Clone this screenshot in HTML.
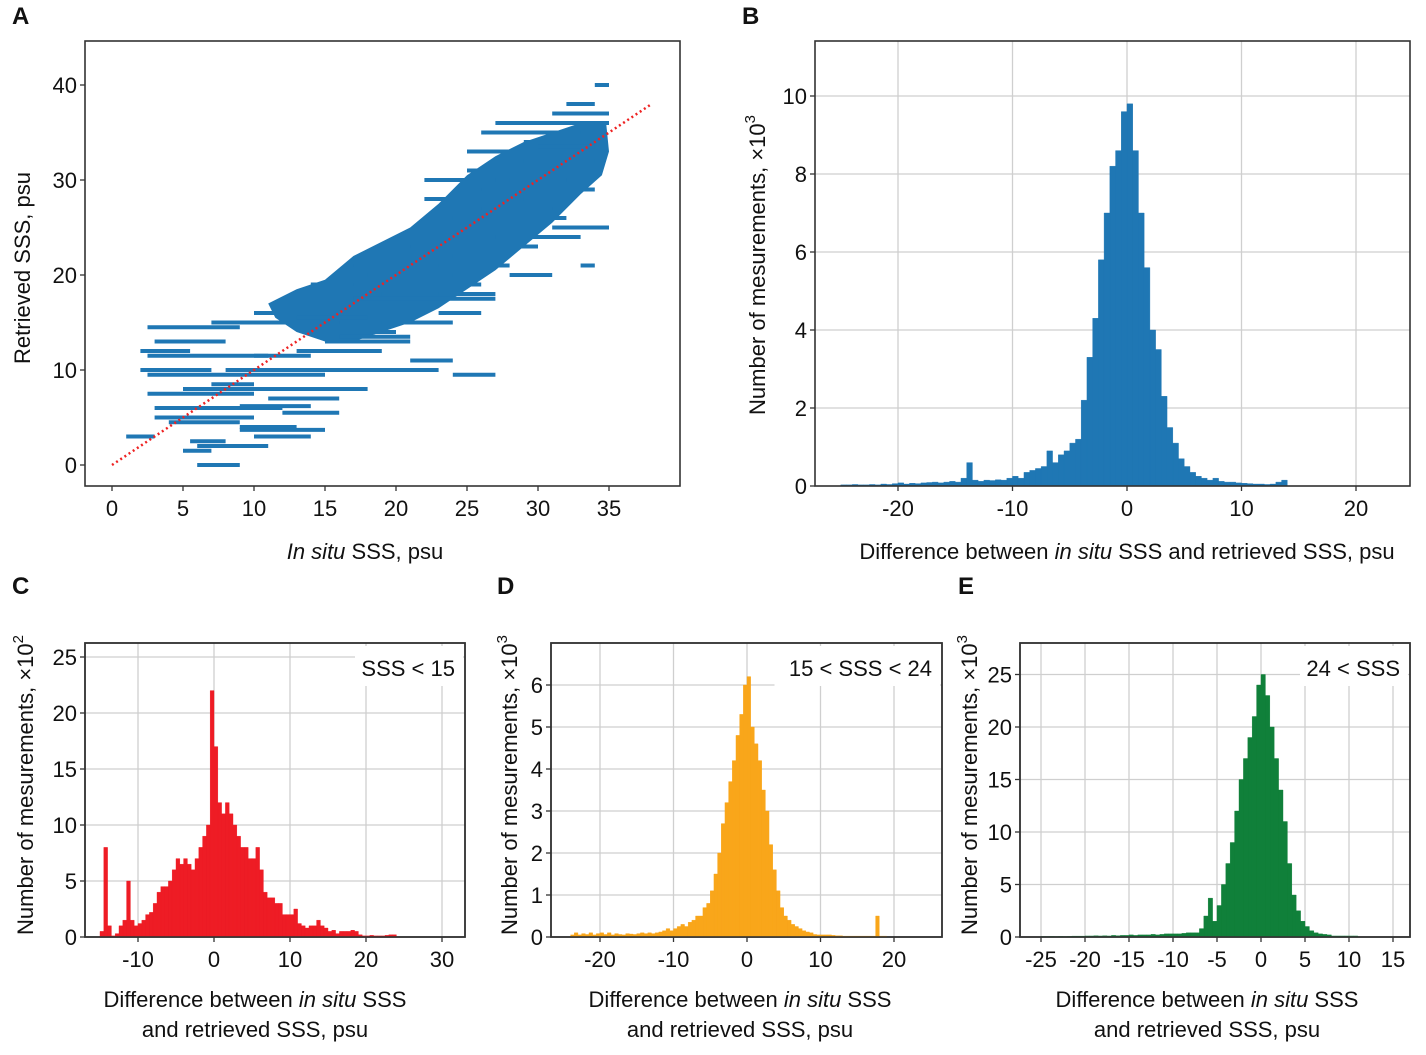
<!DOCTYPE html>
<html><head><meta charset="utf-8"><style>
html,body{margin:0;padding:0;background:#fff;}
svg{display:block;font-family:"Liberation Sans",Arial,sans-serif;}
</style></head><body>
<svg id="fig" width="1426" height="1055" viewBox="0 0 1426 1055">
<g id="root"></g>
</svg>
<script>
// ---------- Panel A data ----------
const aCloud=[[11,17],[13,18.5],[15,19.5],[17,22],[19,23.5],[21,25],[23,27.5],[25,30.5],[27,32.5],[29,34],[31,35],[33,36],[34.8,36],[35,33],[34.5,30.5],[33,28.5],[31,25.5],[29,23],[27,20.5],[25,18.5],[23,16.5],[21,15],[19,14],[17,13],[15,13],[13,14],[11.5,15.5]];
const aStreakX0=[2.5,3,2.5,2.5,2.5,3,6,3,2,2,9,9,5,8,14,17,15,13,10,7,19,21,24,26,28,30,29,31,32,34,25,22,26,23,20,18,17,15,16,14,29,33,27,26,22,25,27,31,33,28,24,23,20,6,10,12,1,10,5,5.5,13,19,16,9,11,21,24,7,4];
const aStreakX1=[9,8,11,15,10,12,11,10,5.5,7,14,15,18,23,22,27,21,19,14,14,28,30,32,31,32,34,34,35,34,35,30,29,34,27,26,24,23,20,19,17,34,35,34,33,27,30,33,35,34,31,28,26,24,9,14,16,3,15,7,8,18,23,21,13,16,24,27,10,9];
const aStreakY=[14.5,13,11.5,9.5,7.5,6,2,5,12,10,6.2,3.7,8,10,16,17.5,13,12,11.5,15,21,23,26,27,30,33.5,34,37,38,40,31,28,29,18,19,20,21,14,15,19,32,36,36,35,30,33,24,25,21,20,22,16,15,0,3,5.5,3,16,1.5,2.5,15.5,18,13.5,4,7,11,9.5,8.5,4.5];
const aDiagMax=38;
// ---------- Histogram data (bin width 0.5) ----------
const bStart=-25;
const bVals=[0.03,0.03,0.04,0.03,0.03,0.04,0.03,0.05,0.04,0.06,0.08,0.05,0.07,0.06,0.08,0.09,0.1,0.08,0.1,0.12,0.1,0.2,0.6,0.15,0.12,0.15,0.14,0.16,0.15,0.2,0.25,0.2,0.35,0.4,0.45,0.5,0.9,0.6,0.8,0.9,1.1,1.2,2.2,3.3,4.3,5.8,7.0,8.2,8.6,9.6,9.8,8.6,7.0,5.6,4.0,3.5,2.3,1.5,1.1,0.7,0.5,0.35,0.25,0.2,0.15,0.2,0.12,0.1,0.1,0.08,0.07,0.06,0.05,0.05,0.04,0.05,0.1,0.15];
const cStart=-15;
const cVals=[0.5,8,1,0.1,0.3,1,1.5,5,1.5,1,1.2,1.5,2,2.2,3,4,4.5,4.5,5,6,7,6.5,7,6.5,6,7,8,9,10,22,17,12,11,12,11,10,9,8,8,7,7,8,6,4,3.5,3.5,3,3,2,2,2,2.5,1.2,1,0.8,1,1,1.5,1,0.8,0.5,0.6,0.3,0.5,0.5,0.5,0.6,0.5,0.2,0.1,0.1,0.15,0.1,0.1,0.1,0.15,0.2,0.2];
const dStart=-24;
const dVals=[0.05,0.1,0.05,0.08,0.06,0.1,0.05,0.08,0.1,0.06,0.1,0.05,0.08,0.06,0.05,0.08,0.07,0.06,0.08,0.1,0.08,0.1,0.08,0.1,0.12,0.15,0.2,0.15,0.2,0.25,0.3,0.25,0.35,0.4,0.5,0.5,0.7,0.8,1.1,1.5,2.0,2.7,3.2,3.7,4.2,4.8,5.3,6.0,6.2,5.0,4.6,4.2,3.5,3.0,2.2,1.6,1.1,0.7,0.5,0.4,0.3,0.25,0.2,0.15,0.12,0.1,0.06,0.05,0.05,0.05,0.05,0.04,0.03,0.03,0.02,0.02,0.02,0.02,0.02,0.02,0.02,0.02,0.02,0.5,0.02,0.02];
const eStart=-25;
const eVals=[0.05,0.05,0.06,0.05,0.06,0.05,0.06,0.08,0.08,0.08,0.1,0.1,0.12,0.1,0.12,0.1,0.15,0.12,0.15,0.15,0.2,0.15,0.2,0.2,0.2,0.25,0.2,0.25,0.3,0.3,0.3,0.3,0.35,0.4,0.4,0.4,0.8,2.0,3.7,1.5,3,5,7,9,12,15,17,19,21,24,25,23,20,17,14,11,7,4,2.5,1.5,1,0.6,0.4,0.3,0.25,0.2,0.1,0.1,0.1,0.1,0.1,0.1];
// tick labels
const aXTicks=[0,5,10,15,20,25,30,35], aYTicks=[0,10,20,30,40];
const bXTicks=[-20,-10,0,10,20], bYTicks=[0,2,4,6,8,10];
const cXTicks=[-10,0,10,20,30], cYTicks=[0,5,10,15,20,25];
const dXTicks=[-20,-10,0,10,20], dYTicks=[0,1,2,3,4,5,6];
const eXTicks=[-25,-20,-15,-10,-5,0,5,10,15], eYTicks=[0,5,10,15,20,25];

const NS="http://www.w3.org/2000/svg";
const root=document.getElementById('root');
function mk(tag,attrs,parent){const e=document.createElementNS(NS,tag);for(const k in attrs)e.setAttribute(k,attrs[k]);(parent||root).appendChild(e);return e;}
function txt(s,x,y,size,anchor,parent,extra){const t=mk('text',Object.assign({x:x,y:y,'font-size':size,'text-anchor':anchor||'middle',fill:'#111'},extra||{}),parent);t.textContent=s;return t;}

function panel(o){
  const g=mk('g',{});
  
  
  const X=v=>o.x0px+(v-o.x0v)*o.xs, Y=v=>o.y0px-(v)*o.ys;
  if(o.grid){
    o.xt.forEach(v=>{const l=mk('line',{x1:X(v),x2:X(v),y1:o.top,y2:o.bot,stroke:'#cfcfcf','stroke-width':1.3},g);});
    o.yt.forEach(v=>{const l=mk('line',{x1:o.left,x2:o.right,y1:Y(v),y2:Y(v),stroke:'#cfcfcf','stroke-width':1.3},g);});
  }
  if(o.draw)o.draw(g,X,Y);
  const fr=mk('rect',{x:o.left,y:o.top,width:o.right-o.left,height:o.bot-o.top,fill:'none',stroke:'#333','stroke-width':1.6},g);
  
  o.xt.forEach(v=>{mk('line',{x1:X(v),x2:X(v),y1:o.bot,y2:o.bot+5,stroke:'#333','stroke-width':1.3},g);const t=txt(String(v),X(v),o.bot+30,22,'middle',g);});
  o.yt.forEach(v=>{mk('line',{x1:o.left-5,x2:o.left,y1:Y(v),y2:Y(v),stroke:'#333','stroke-width':1.3},g);const t=txt(String(v),o.left-8,Y(v)+8,22,'end',g);});
  return g;
}
function hist(vals,start,color){return function(g,X,Y){
  let d='';
  vals.forEach((v,i)=>{const a=X(start+i*0.5),b=X(start+(i+1)*0.5);d+='M'+a+' '+Y(0)+'H'+b+'V'+Y(v)+'H'+a+'Z';});
  const p=mk('path',{d:d,fill:color,stroke:color,'stroke-width':0.4},g);
  
};}
function ylab(lines,x,y,parent,sup){
  const t=mk('text',{x:0,y:0,'font-size':22,'text-anchor':'middle',fill:'#111',transform:'translate('+x+','+y+') rotate(-90)'},parent);
  t.textContent=lines;
  if(sup){const s=mk('tspan',{'font-size':15,dy:-10},t);s.textContent=sup;}
  return t;
}

// Panel A
const pa=panel({name:'panel-a-scatter',left:85,right:680,top:41,bot:486,x0px:112,x0v:0,xs:14.2,y0px:465,ys:9.5,xt:aXTicks,yt:aYTicks,grid:false,
 draw:(g,X,Y)=>{
  const pts=aCloud.map(p=>X(p[0])+','+Y(p[1])).join(' ');
  const c=mk('polygon',{points:pts,fill:'#1f77b4'},g);
  
  aStreakY.forEach((y,i)=>{const l=mk('line',{x1:X(aStreakX0[i]),x2:X(aStreakX1[i]),y1:Y(y),y2:Y(y),stroke:'#1f77b4','stroke-width':4},g);
   });
  const d=mk('line',{x1:X(0),y1:Y(0),x2:X(aDiagMax),y2:Y(aDiagMax),stroke:'#ee2222','stroke-width':2.5,'stroke-dasharray':'2 3'},g);
  
 }});
let t;
t=ylab('Retrieved SSS, psu',30,268,pa);
t=mk('text',{x:365,y:559,'font-size':22,'text-anchor':'middle',fill:'#111'},pa);t.innerHTML='<tspan font-style="italic">In situ</tspan> SSS, psu';


// Panel B
const pb=panel({name:'panel-b-histogram',left:815,right:1410,top:41,bot:486,x0px:1127,x0v:0,xs:11.45,y0px:486,ys:39,xt:bXTicks,yt:bYTicks,grid:true,draw:hist(bVals,bStart,'#1f77b4')});
t=ylab('Number of mesurements, ×10',765,265,pb,'3');
t=mk('text',{x:1127,y:559,'font-size':22,'text-anchor':'middle',fill:'#111'},pb);t.innerHTML='Difference between <tspan font-style="italic">in situ</tspan> SSS and retrieved SSS, psu';


function lowerPanel(name,o,vals,start,color,ann,annX,ylx,xtc,sup){
  o.name=name;o.top=643;o.bot=937;o.y0px=937;o.grid=true;
  const g=panel(o);
  hist(vals,start,color)(g,v=>o.x0px+(v-o.x0v)*o.xs,v=>o.y0px-v*o.ys);
  const w=ann.length*11.5+16;
  const r=mk('rect',{x:o.right-w-2,y:646,width:w,height:40,fill:'#fff'},g);
  
  const a=txt(ann,o.right-10,676,22,'end',g);
  mk('rect',{x:o.left,y:o.top,width:o.right-o.left,height:o.bot-o.top,fill:'none',stroke:'#333','stroke-width':1.6},g);
  const yt=ylab('Number of mesurements, ×10',ylx,785,g,sup);
  const x1=mk('text',{x:xtc,y:1007,'font-size':22,'text-anchor':'middle',fill:'#111'},g);x1.innerHTML='Difference between <tspan font-style="italic">in situ</tspan> SSS';
  
  const x2=txt('and retrieved SSS, psu',xtc,1037,22,'middle',g);
}
lowerPanel('panel-c-histogram',{left:85,right:465,x0px:214,x0v:0,xs:7.6,ys:11.2,xt:cXTicks,yt:cYTicks},cVals,cStart,'#ee1c25','SSS < 15',0,33,255,'2');
lowerPanel('panel-d-histogram',{left:551,right:942,x0px:747,x0v:0,xs:7.35,ys:42,xt:dXTicks,yt:dYTicks},dVals,dStart,'#f9a61a','15 < SSS < 24',0,517,740,'3');
lowerPanel('panel-e-histogram',{left:1020,right:1410,x0px:1261,x0v:0,xs:8.8,ys:10.5,xt:eXTicks,yt:eYTicks},eVals,eStart,'#10803a','24 < SSS',0,977,1207,'3');

[['A',12,24],['B',742,24],['C',12,594],['D',497,594],['E',958,594]].forEach(p=>{
  const l=txt(p[0],p[1],p[2],24,'start',root,{'font-weight':'bold'});
  
  
});
</script>
</body></html>
